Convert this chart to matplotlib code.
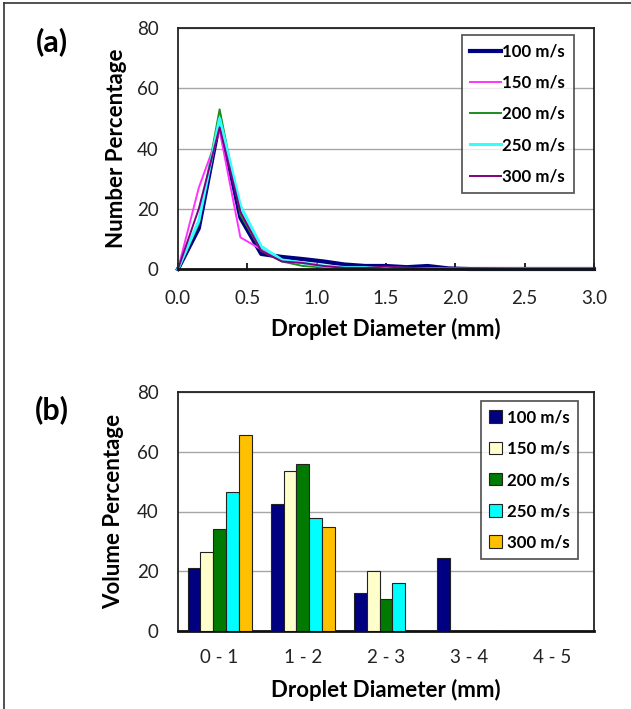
import matplotlib
matplotlib.use("Agg")
import matplotlib.pyplot as plt
from matplotlib.lines import Line2D
import numpy as np

plt.rcParams['font.family'] = ['Lato', 'DejaVu Sans']

# ---- data -------------------------------------------------------------
speeds = ["100 m/s", "150 m/s", "200 m/s", "250 m/s", "300 m/s"]

diameter_mm = [0.0, 0.15, 0.3, 0.45, 0.6, 0.75, 0.9, 1.05, 1.2, 1.35, 1.5,
               1.65, 1.8, 1.95, 2.1, 2.25, 2.4, 2.55, 2.7, 2.85, 3.0]

num_100 = [0, 13.5, 49, 17, 5, 4, 3.3, 2.5, 1.5, 1.0, 1.0, 0.6, 1.0, 0.2, 0, 0, 0, 0, 0, 0, 0]
num_150 = [0, 27, 46, 10.5, 6.5, 3, 2, 0.5, 0.2, 0.2, 0.5, 0.3, 0.1, 0, 0, 0, 0, 0, 0, 0, 0]
num_200 = [0, 15, 53, 18, 6, 2.5, 1.0, 0.5, 0.5, 0.3, 0.3, 0.3, 0.2, 0, 0, 0, 0, 0, 0, 0, 0]
num_250 = [0, 16, 50, 21, 7.5, 3, 2, 1.0, 0.5, 0.5, 0.3, 0.2, 0.1, 0, 0, 0, 0, 0, 0, 0, 0]
num_300 = [0, 20, 47, 19, 6, 2.5, 2, 1.0, 0.4, 0.4, 0.8, 0.4, 0.2, 0.1, 0.2, 0.1, 0, 0, 0, 0, 0]

size_bins = ["0 - 1", "1 - 2", "2 - 3", "3 - 4", "4 - 5"]
vol_100 = [21.2, 42.4, 12.6, 24.6, 0]
vol_150 = [26.5, 53.6, 20.2, 0, 0]
vol_200 = [34.1, 56.0, 10.7, 0, 0]
vol_250 = [46.4, 37.9, 15.9, 0, 0]
vol_300 = [65.5, 34.8, 0, 0, 0]

line_colors = ["#000080", "#FF33FF", "#1E8C1E", "#33FFFF", "#800080"]
line_widths = [3.0, 1.4, 1.4, 2.2, 1.4]
bar_colors = ["#000080", "#FFFFCC", "#007A00", "#00FFFF", "#FFC000"]

# ---- figure -----------------------------------------------------------
fig = plt.figure(figsize=(6.31, 7.09), dpi=100)

tick_fs = 13.5
label_fs = 16
legend_fs = 12.2

def style_axes(ax):
    ax.set_ylim(0, 80)
    ax.set_yticks([0, 20, 40, 60, 80])
    ax.yaxis.grid(True, color="#A6A6A6", linewidth=1.0)
    ax.set_axisbelow(True)
    for side in ["left", "right", "top"]:
        ax.spines[side].set_color("#222222")
        ax.spines[side].set_linewidth(1.3)
    ax.spines["bottom"].set_color("#111111")
    ax.spines["bottom"].set_linewidth(2.0)
    ax.tick_params(axis="y", length=0, labelsize=tick_fs, pad=14)
    for t in ax.get_yticklabels() + ax.get_xticklabels():
        t.set_color("#222222")

# (a) number distribution
ax1 = fig.add_axes([178 / 631, 1 - 269 / 709, 416 / 631, 241 / 709])
nums = [num_100, num_150, num_200, num_250, num_300]
handles = []
for vals, c, lw, lab in zip(nums, line_colors, line_widths, speeds):
    ax1.plot(diameter_mm, vals, color=c, linewidth=lw, label=lab,
             solid_joinstyle="round", clip_on=False)
    handles.append(Line2D([], [], color=c, linewidth=lw, label=lab))
ax1.set_xlim(0, 3.0)
ax1.set_xticks(np.arange(0, 3.01, 0.5))
ax1.set_xticklabels([f"{v:.1f}" for v in np.arange(0, 3.01, 0.5)])
ax1.tick_params(axis="x", direction="in", length=4, width=1.2,
                labelsize=tick_fs, pad=15)
style_axes(ax1)
ax1.set_xlabel("Droplet Diameter (mm)", fontsize=label_fs, fontweight="bold", labelpad=8)
ax1.set_ylabel("Number Percentage", fontsize=label_fs, fontweight="bold", labelpad=7)
leg1 = ax1.legend(handles=handles, loc="upper right", bbox_to_anchor=(0.951, 0.971),
                  prop={"weight": "bold", "size": legend_fs},
                  frameon=True, fancybox=False, edgecolor="#333333",
                  handlelength=1.8, handletextpad=0.08, labelspacing=0.9,
                  borderpad=0.5, borderaxespad=0)
leg1.get_frame().set_linewidth(1.3)

# (b) volume distribution
ax2 = fig.add_axes([178 / 631, 1 - 631 / 709, 416 / 631, 239 / 709])
vols = [vol_100, vol_150, vol_200, vol_250, vol_300]
x = np.arange(len(size_bins))
bw = 0.154
for i, (vals, c, lab) in enumerate(zip(vols, bar_colors, speeds)):
    ax2.bar(x + (i - 2) * bw, vals, width=bw, color=c, edgecolor="#222222",
            linewidth=0.8, label=lab, zorder=3)
ax2.set_xlim(-0.5, len(size_bins) - 0.5)
ax2.set_xticks(x)
ax2.set_xticklabels(size_bins)
ax2.tick_params(axis="x", length=0, labelsize=tick_fs, pad=13)
style_axes(ax2)
ax2.set_xlabel("Droplet Diameter (mm)", fontsize=label_fs, fontweight="bold", labelpad=9)
ax2.set_ylabel("Volume Percentage", fontsize=label_fs, fontweight="bold", labelpad=9)
leg2 = ax2.legend(loc="upper right", bbox_to_anchor=(0.962, 0.962),
                  prop={"weight": "bold", "size": legend_fs},
                  frameon=True, fancybox=False, edgecolor="#333333",
                  handlelength=0.75, handleheight=0.75, handletextpad=0.3,
                  labelspacing=0.9, borderpad=0.5, borderaxespad=0)
leg2.get_frame().set_linewidth(1.3)

# panel labels
fig.text(52 / 631, 1 - 42 / 709, "(a)", fontsize=22, fontweight="bold",
         ha="center", va="center")
fig.text(52 / 631, 1 - 410 / 709, "(b)", fontsize=22, fontweight="bold",
         ha="center", va="center")

# outer frame (top and left edges)
fig.add_artist(Line2D([4 / 631, 4 / 631], [0, 1 - 3 / 709], color="#333333",
                      linewidth=1.2, transform=fig.transFigure))
fig.add_artist(Line2D([4 / 631, 1], [1 - 3 / 709, 1 - 3 / 709], color="#333333",
                      linewidth=1.2, transform=fig.transFigure))

fig.savefig("out.png", dpi=100, facecolor="white")
